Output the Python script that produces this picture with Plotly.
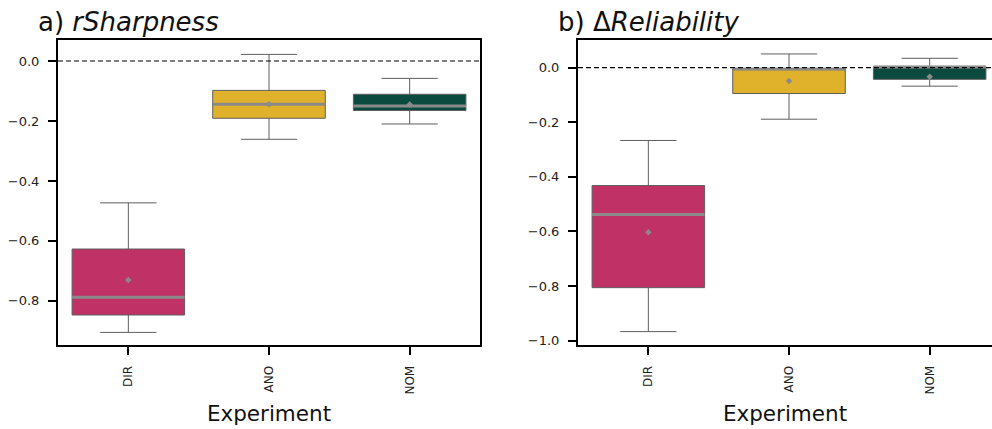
import plotly.graph_objects as go
from plotly.subplots import make_subplots

experiments = ["DIR", "ANO", "NOM"]
colors = ["#c03266", "#e0b12a", "#0b4a3e"]

# a) rSharpness
a_q1 = [-0.847, -0.191, -0.165]
a_median = [-0.788, -0.144, -0.150]
a_q3 = [-0.627, -0.098, -0.111]
a_low = [-0.905, -0.261, -0.210]
a_up = [-0.473, 0.022, -0.058]
a_mean = [-0.730, -0.144, -0.145]

# b) ΔReliability
b_q1 = [-0.806, -0.095, -0.043]
b_median = [-0.538, -0.005, 0.002]
b_q3 = [-0.432, -0.004, 0.004]
b_low = [-0.967, -0.189, -0.068]
b_up = [-0.267, 0.050, 0.034]
b_mean = [-0.603, -0.049, -0.034]

W, H = 992, 429
ML, MT, MB = 58, 40, 84
PW = W - ML
PH = H - MT - MB

fig = make_subplots(rows=1, cols=2)
fig.update_xaxes(domain=[0, (480 - ML) / PW], row=1, col=1)
fig.update_xaxes(domain=[(578 - ML) / PW, 1], row=1, col=2)

BOXW = 0.8
panels = [
    (1, a_q1, a_median, a_q3, a_low, a_up, a_mean),
    (2, b_q1, b_median, b_q3, b_low, b_up, b_mean),
]
for col, q1, med, q3, lo, up, mn in panels:
    for i, exp in enumerate(experiments):
        fig.add_trace(go.Box(
            x=[i], q1=[q1[i]], median=[med[i]], q3=[q3[i]],
            lowerfence=[lo[i]], upperfence=[up[i]],
            width=BOXW, whiskerwidth=0.5,
            fillcolor=colors[i],
            line=dict(color="#5e5e5e", width=1),
            showlegend=False, hoverinfo="skip",
        ), row=1, col=col)
        # median line
        fig.add_trace(go.Scatter(
            x=[i - BOXW / 2, i + BOXW / 2], y=[med[i], med[i]],
            mode="lines", line=dict(color="#8a8a8a", width=3),
            showlegend=False, hoverinfo="skip",
        ), row=1, col=col)
    fig.add_trace(go.Scatter(
        x=list(range(len(experiments))), y=mn, mode="markers",
        marker=dict(symbol="diamond", size=5, color="#8a8a8a"),
        showlegend=False, hoverinfo="skip",
    ), row=1, col=col)
    fig.add_hline(y=0, line=dict(color="black", width=1.2, dash="5px,3px"),
                  row=1, col=col)

tickfont = dict(family="DejaVu Sans", size=13, color="#222")
common_x = dict(
    tickmode="array", tickvals=[0, 1, 2], ticktext=experiments,
    tickangle=-90, tickfont=dict(family="DejaVu Sans", size=12, color="#222"),
    ticks="outside", ticklen=8, tickwidth=2, tickcolor="black",
    ticklabelstandoff=6,
    showgrid=False, zeroline=False, showline=True, linecolor="black", linewidth=2,
    mirror=True,
    title=dict(text="Experiment", font=dict(family="DejaVu Sans", size=21.5, color="#111"), standoff=12),
)
fig.update_xaxes(**common_x)
fig.update_xaxes(range=[-0.5, 2.5], row=1, col=1)
fig.update_xaxes(range=[-0.5, 2.443], row=1, col=2)

common_y = dict(
    tickfont=tickfont, ticks="outside", ticklen=8, tickwidth=2, tickcolor="black",
    ticklabelstandoff=6,
    showgrid=False, zeroline=False, showline=True, linecolor="black", linewidth=2,
    tickformat=".1f", dtick=0.2,
)
fig.update_yaxes(**common_y)
fig.update_yaxes(range=[-0.947, 0.07], mirror=True, row=1, col=1)
fig.update_yaxes(range=[-1.016, 0.101], mirror=False, row=1, col=2)

fig.add_annotation(
    xref="paper", yref="paper", x=(36 - ML) / PW, y=1 + (MT - 22) / PH,
    xanchor="left", yanchor="middle", showarrow=False,
    text="a) <i>rSharpness</i>", font=dict(family="DejaVu Sans", size=26, color="#111"),
)
fig.add_annotation(
    xref="paper", yref="paper", x=(556 - ML) / PW, y=1 + (MT - 22) / PH,
    xanchor="left", yanchor="middle", showarrow=False,
    text="b) Δ<i>Reliability</i>", font=dict(family="DejaVu Sans", size=26, color="#111"),
)

fig.update_layout(
    width=W, height=H,
    margin=dict(l=ML, r=0, t=MT, b=MB),
    plot_bgcolor="white", paper_bgcolor="white",
    showlegend=False,
)
fig.write_html("out.html")
